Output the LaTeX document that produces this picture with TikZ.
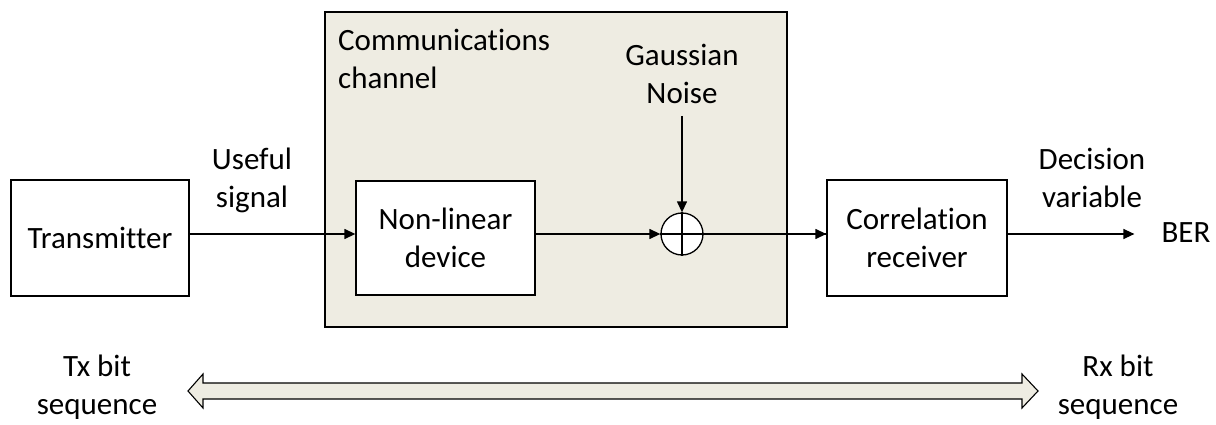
\documentclass[tikz,border=0pt]{standalone}
\usepackage{fontspec}
\setmainfont{Carlito}[Ligatures=NoCommon]
\usetikzlibrary{arrows.meta}
\definecolor{beige}{RGB}{238,236,226}
\begin{document}
\begin{tikzpicture}[x=1pt,y=-1pt,
  lbl/.style={font=\fontsize{31}{38}\selectfont, align=center, inner sep=0pt},
  blk/.style={draw, line width=1.3pt, fill=white, minimum width=178pt, minimum height=116pt, lbl},
  arr/.style={line width=1.3pt, -{Triangle[length=11pt,width=10pt]}},
  ln/.style={line width=1.3pt}]
\useasboundingbox (0,0) rectangle (1216,425);
\node[draw, ln, fill=beige, minimum width=462pt, minimum height=315pt, inner sep=0pt] (chan) at (556,169.5) {};
\node[lbl, anchor=north west, align=left] (chantxt) at (338,29) {Communications\\channel};
\node[blk] (tx) at (100,238) {Transmitter};
\node[blk, minimum width=179pt, minimum height=114pt] (nl) at (445.5,238) {Non-linear\\device};
\node[draw, ln, circle, fill=white, minimum size=42pt, inner sep=0pt] (sum) at (682,234) {};
\draw[ln] (sum.north) -- (sum.south) (sum.west) -- (sum.east);
\node[blk, minimum width=180pt] (rx) at (917,238) {Correlation\\receiver};
\node[lbl] (ber) at (1186,233) {BER};
\node[lbl] (noise) at (682,74) {Gaussian\\Noise};
\node[lbl] (useful) at (252,180) {Useful\\signal};
\node[lbl] (dec) at (1092,178) {Decision\\variable};
\node[lbl] (txbit) at (97,387) {Tx bit\\sequence};
\node[lbl] (rxbit) at (1118,387) {Rx bit\\sequence};
\draw[arr] (tx.east |- sum.center) -- (nl.west |- sum.center);
\draw[arr] (nl.east |- sum.center) -- (sum.west);
\draw[arr] (noise.south) ++(0,12) coordinate (nz) (nz) -- (sum.north);
\draw[ln] (sum.east) -- (rx.west |- sum.center);
\draw[arr] (rx.west |- sum.center) ++(-5,0) coordinate (rxin) (rxin) -- (rx.west |- sum.center);
\draw[arr, shorten >=27pt] (rx.east |- sum.center) -- (ber.west |- sum.center);
\draw[ln, line width=1.1pt, fill=beige, line join=miter] (188,391) -- (203,374) -- (203,383) -- (1022,383) -- (1022,374) -- (1038,391) -- (1022,408) -- (1022,399) -- (203,399) -- (203,408) -- cycle;
\end{tikzpicture}
\end{document}
